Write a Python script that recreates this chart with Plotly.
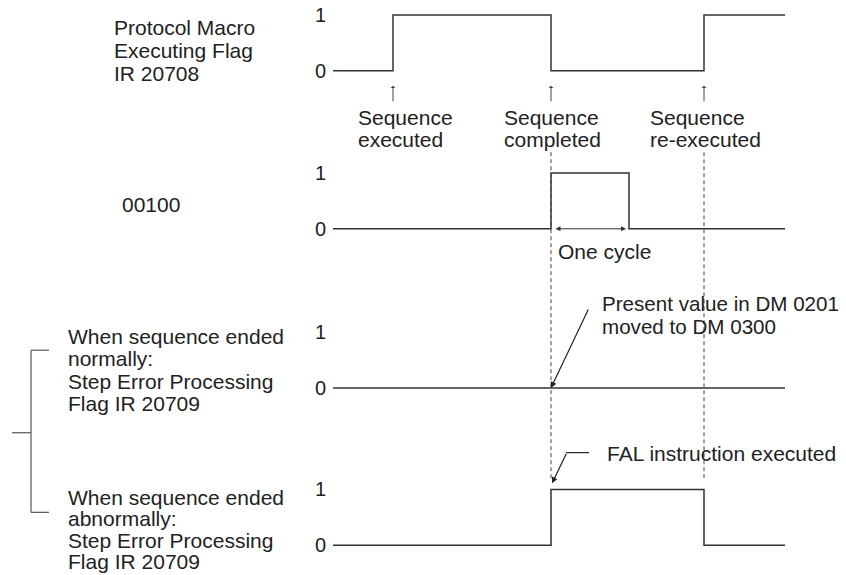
import plotly.graph_objects as go

W, H = 846, 575
FONT = "Liberation Sans, Arial, Helvetica, sans-serif"
INK = "#222222"
LINE = "#333333"

# event times along the time axis (arbitrary units)
t_exec = 60
t_done = 218
t_cycle = 296
t_reexec = 371
t_end = 452

# the four traces (step signals, 0/1)
sig1_t = [0, t_exec, t_done, t_reexec, t_end]
sig1_v = [0, 1, 0, 1, 1]
sig2_t = [0, t_done, t_cycle, t_end]
sig2_v = [0, 1, 0, 0]
sig3_t = [0, t_end]
sig3_v = [0, 0]
sig4_t = [0, t_done, t_reexec, t_end]
sig4_v = [0, 1, 0, 0]
signals = [(sig1_t, sig1_v), (sig2_t, sig2_v), (sig3_t, sig3_v), (sig4_t, sig4_v)]

level_ticks = [0, 1]
level_text = ["0", "1"]

# layout helpers (pixel positions on the 846x575 canvas)
zero_px = [68, 227, 387, 545]
UNIT = 56
X0 = 333
LO, HI = -0.32, 1.15


def px(x):
    return x / W


def py(y):
    return 1 - y / H


fig = go.Figure()

layout_axes = {}
for i, (t, v) in enumerate(signals):
    yname = "y" if i == 0 else f"y{i + 1}"
    fig.add_trace(go.Scatter(
        x=t, y=v, mode="lines", line_shape="hv",
        line=dict(color=LINE, width=1.5),
        xaxis="x", yaxis=yname, showlegend=False, hoverinfo="skip"
    ))
    key = "yaxis" if i == 0 else f"yaxis{i + 1}"
    layout_axes[key] = dict(
        domain=[py(zero_px[i] - LO * UNIT), py(zero_px[i] - HI * UNIT)],
        range=[LO, HI], tickvals=level_ticks, ticktext=level_text,
        showgrid=False, zeroline=False, showline=False, ticks="",
        anchor="free", position=px(X0), ticklabelstandoff=7,
        tickfont=dict(size=20, family=FONT, color=INK),
    )

annotations = []


def label(lines, x, y0, dy=22.5, size=21):
    for j, s in enumerate(lines):
        annotations.append(dict(
            text=s, x=px(x), y=py(y0 + j * dy), xref="paper", yref="paper",
            xanchor="left", yanchor="middle", showarrow=False,
            font=dict(size=size, family=FONT, color=INK)
        ))


label(["Protocol Macro", "Executing Flag", "IR 20708"], 112, 25, 23)
label(["00100"], 120, 203)
label(["When sequence ended", "normally:", "Step Error Processing", "Flag IR 20709"], 66, 335, 22.7)
label(["When sequence ended", "abnormally:", "Step Error Processing", "Flag IR 20709"], 66, 497, 21.6)
label(["Sequence", "executed"], 356, 115, 22)
label(["Sequence", "completed"], 502, 115, 22)
label(["Sequence", "re-executed"], 648, 115, 22)
label(["One cycle"], 556, 250)
label(["Present value in DM 0201", "moved to DM 0300"], 600, 302, 23, 20.6)
label(["FAL instruction executed"], 605, 453)

# small up arrows under the first trace
for t in [t_exec, t_done, t_reexec]:
    annotations.append(dict(
        x=t, y=-0.27, xref="x", yref="y", ax=0, ay=17, text="",
        showarrow=True, arrowhead=1, arrowsize=0.8, arrowwidth=1, arrowcolor="#444"
    ))

# one cycle double arrow
annotations.append(dict(
    x=t_cycle, y=0, xref="x", yref="y2", ax=t_done, ay=0, axref="x", ayref="y2",
    text="", showarrow=True, arrowside="end+start", arrowhead=2, arrowsize=1,
    arrowwidth=1, arrowcolor="#333", standoff=3, startstandoff=3
))

# pointer to the normal-end trace
annotations.append(dict(
    x=t_done, y=0, xref="x", yref="y3", ax=38, ay=-80, text="",
    showarrow=True, arrowhead=2, arrowsize=1, arrowwidth=1.2, arrowcolor="#222"
))

# pointer to the abnormal-end trace
annotations.append(dict(
    x=t_done + 1, y=1.11, xref="x", yref="y4", ax=15, ay=-31, text="",
    showarrow=True, arrowhead=2, arrowsize=1, arrowwidth=1.2, arrowcolor="#222"
))

shapes = []
for t in [t_done, t_reexec]:
    shapes.append(dict(type="line", xref="x", yref="paper", x0=t, x1=t,
                       y0=py(150), y1=py(478),
                       line=dict(color="#444", width=1, dash="4px,3px")))

# leader line of FAL label
shapes.append(dict(type="line", xref="x", yref="paper", x0=t_done + 15, x1=t_done + 38,
                   y0=py(452), y1=py(452), line=dict(color="#222", width=1.2)))

# bracket joining the two Step Error Processing Flag cases
for (xa, ya, xb, yb) in [(31, 349, 49, 349), (31, 349, 31, 512), (31, 512, 49, 512), (12, 432, 31, 432)]:
    shapes.append(dict(type="line", xref="paper", yref="paper",
                       x0=px(xa), y0=py(ya), x1=px(xb), y1=py(yb),
                       line=dict(color="#555", width=1.2)))

fig.update_layout(
    width=W, height=H,
    margin=dict(l=0, r=0, t=0, b=0),
    paper_bgcolor="white", plot_bgcolor="white",
    xaxis=dict(range=[-X0, W - X0], visible=False, domain=[0, 1], fixedrange=True),
    annotations=annotations, shapes=shapes,
    font=dict(family=FONT, color=INK),
    **layout_axes
)

fig.write_html("out.html", config={"displayModeBar": False},
               post_script="document.body.style.margin='0';")
